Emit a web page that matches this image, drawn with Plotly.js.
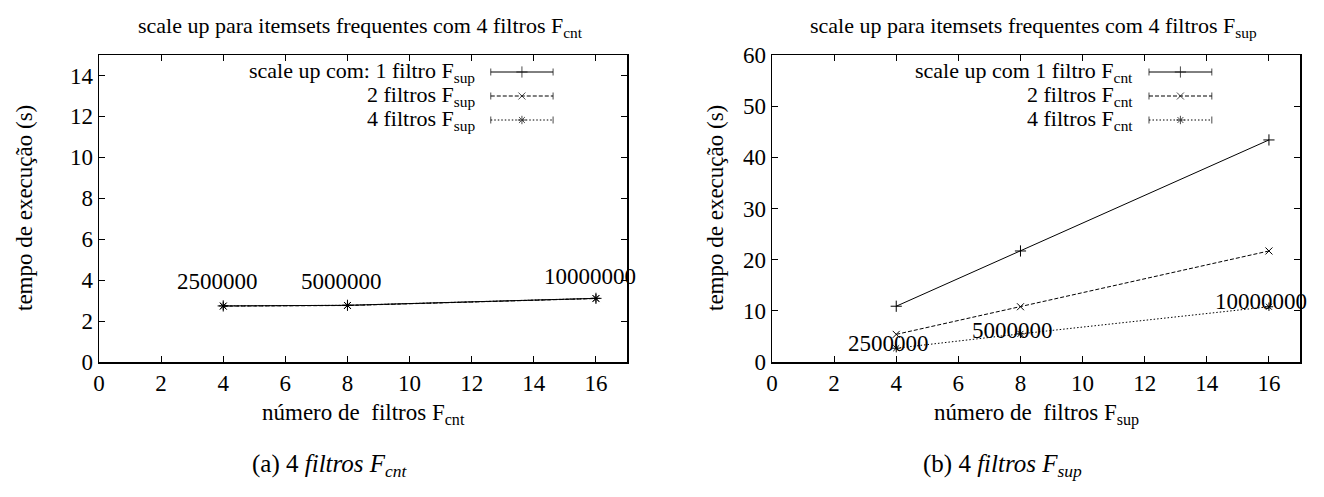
<!DOCTYPE html>
<html><head><meta charset="utf-8">
<script src="https://cdn.plot.ly/plotly-3.0.1.min.js"></script>
<style>html,body{margin:0;padding:0;background:#fff}#chart{width:1324px;height:497px}</style>
</head><body><div id="chart"></div>
<script>
// ---- data ----
const filtros = [4, 8, 16];
const cntSerie1 = [2.74, 2.77, 3.11];
const cntSerie2 = [2.73, 2.76, 3.10];
const cntSerie3 = [2.74, 2.77, 3.11];
const supSerie1 = [10.9, 21.7, 43.4];
const supSerie2 = [5.4, 10.8, 21.7];
const supSerie3 = [2.7, 5.5, 10.8];
const tamanhos = ['2500000', '5000000', '10000000'];
const cntLabelX = [3.8, 7.8, 15.8];
const cntLabelY = [3.92, 3.92, 4.2];
const supLabelX = [3.76, 7.75, 15.75];
const supLabelY = [3.6, 6.1, 11.9];
const cntLegend = ['scale up com: 1 filtro F<sub>sup</sub>', '2 filtros F<sub>sup</sub>', '4 filtros F<sub>sup</sub>'];
const supLegend = ['scale up com 1 filtro F<sub>cnt</sub>', '2 filtros F<sub>cnt</sub>', '4 filtros F<sub>cnt</sub>'];
const xTicks = [0, 2, 4, 6, 8, 10, 12, 14, 16];
const cntYTicks = [0, 2, 4, 6, 8, 10, 12, 14];
const supYTicks = [0, 10, 20, 30, 40, 50, 60];

// ---- layout geometry ----
const W = 1324, H = 497, ML = 99, MR = 24, MT = 55, MB = 135;
const PW = W - ML - MR, PH = H - MT - MB;
const px = v => (v - ML) / PW;
const py = v => (H - MB - v) / PH;
const dom1 = [0, px(627)], dom2 = [px(772), 1];

const FONT = 'Liberation Serif';
const FS = 23;
const styles = [
  {dash: 'solid', symbol: 'cross-thin', size: 8},
  {dash: '4px,2px', symbol: 'x-thin', size: 7},
  {dash: '1.5px,2px', symbol: 'asterisk', size: 7}
];

function serie(x, y, i, xa, ya) {
  const s = styles[i];
  return {x: x, y: y, xaxis: xa, yaxis: ya, type: 'scatter', mode: 'lines+markers', showlegend: false,
    line: {color: '#000', width: 1, dash: s.dash},
    marker: {symbol: s.symbol, size: s.size, color: '#000', line: {color: '#000', width: 1}},
    hoverinfo: 'skip'};
}

const traces = [
  serie(filtros, cntSerie1, 0, 'x', 'y'),
  serie(filtros, cntSerie2, 1, 'x', 'y'),
  serie(filtros, cntSerie3, 2, 'x', 'y'),
  serie(filtros, supSerie1, 0, 'x2', 'y2'),
  serie(filtros, supSerie2, 1, 'x2', 'y2'),
  serie(filtros, supSerie3, 2, 'x2', 'y2')
];

const annotations = [];
const fnt = size => ({family: FONT, size: size, color: '#000'});
function legendBlock(labels, textRight, x0, x1, rows, xa, ya, xd) {
  labels.forEach((t, i) => {
    const s = styles[i];
    traces.push({x: [x0, (x0 + x1) / 2, x1], y: [rows[i], rows[i], rows[i]], xaxis: xa, yaxis: ya,
      type: 'scatter', mode: 'lines+markers', showlegend: false, hoverinfo: 'skip',
      line: {color: '#000', width: 1, dash: s.dash},
      marker: {symbol: ['line-ns', s.symbol, 'line-ns'], size: [5, s.size, 5], color: '#000', line: {color: '#000', width: 1}}});
    annotations.push({xref: xd, yref: 'paper', x: textRight, y: rows[i],
      xanchor: 'right', yanchor: 'middle', showarrow: false, text: t, font: fnt(22)});
  });
}

function ax(extra) {
  return Object.assign({showgrid: false, zeroline: false, showline: true, linecolor: '#000', linewidth: 1.5, mirror: 'ticks',
    ticks: 'inside', ticklen: 6, tickwidth: 1, tickcolor: '#000', tickfont: fnt(FS)}, extra);
}

const layout = {
  width: W, height: H, margin: {l: ML, r: MR, t: MT, b: MB}, paper_bgcolor: '#fff', plot_bgcolor: '#fff',
  showlegend: false, font: fnt(FS),
  xaxis: ax({domain: dom1, range: [0, 17], tickvals: xTicks, anchor: 'y'}),
  yaxis: ax({range: [0, 15], tickvals: cntYTicks, anchor: 'x'}),
  xaxis2: ax({domain: dom2, range: [0, 17], tickvals: xTicks, anchor: 'y2'}),
  yaxis2: ax({range: [0, 60], tickvals: supYTicks, anchor: 'x2'}),
  xaxis3: {overlaying: 'x', range: [0, 1], visible: false, anchor: 'y3'},
  yaxis3: {overlaying: 'y', range: [0, 1], visible: false, anchor: 'x3'},
  xaxis4: {overlaying: 'x2', range: [0, 1], visible: false, anchor: 'y4'},
  yaxis4: {overlaying: 'y2', range: [0, 1], visible: false, anchor: 'x4'},
  annotations: annotations
};

legendBlock(cntLegend, 0.716, 0.742, 0.860, [py(72), py(96), py(120)], 'x3', 'y3', 'x domain');
legendBlock(supLegend, 0.6875, 0.714, 0.833, [py(72), py(96), py(120)], 'x4', 'y4', 'x2 domain');

tamanhos.forEach((t, i) => {
  annotations.push({xref: 'x', yref: 'y', x: cntLabelX[i], y: cntLabelY[i], text: t, showarrow: false,
    xanchor: 'center', yanchor: 'middle', font: fnt(FS)});
  annotations.push({xref: 'x2', yref: 'y2', x: supLabelX[i], y: supLabelY[i], text: t, showarrow: false,
    xanchor: 'center', yanchor: 'middle', font: fnt(FS)});
});

const txt = (x, y, t, size, extra) => annotations.push(Object.assign({xref: 'paper', yref: 'paper', x: px(x), y: py(y), text: t,
  showarrow: false, xanchor: 'center', yanchor: 'middle', font: fnt(size)}, extra || {}));
txt(360, 27, 'scale up para itemsets frequentes com 4 filtros F<sub>cnt</sub>', 22);
txt(1033, 27, 'scale up para itemsets frequentes com 4 filtros F<sub>sup</sub>', 22);
txt(363, 414, 'número de  filtros F<sub>cnt</sub>', FS);
txt(1036, 414, 'número de  filtros F<sub>sup</sub>', FS);
txt(24, 208, 'tempo de execução (s)', FS, {textangle: -90});
txt(715, 208, 'tempo de execução (s)', FS, {textangle: -90});
txt(330, 465, '(a) 4 <i>filtros F<sub>cnt</sub></i>', 25);
txt(1002, 465, '(b) 4 <i>filtros F<sub>sup</sub></i>', 25);

Plotly.newPlot('chart', traces, layout, {staticPlot: true, displayModeBar: false});
</script></body></html>
